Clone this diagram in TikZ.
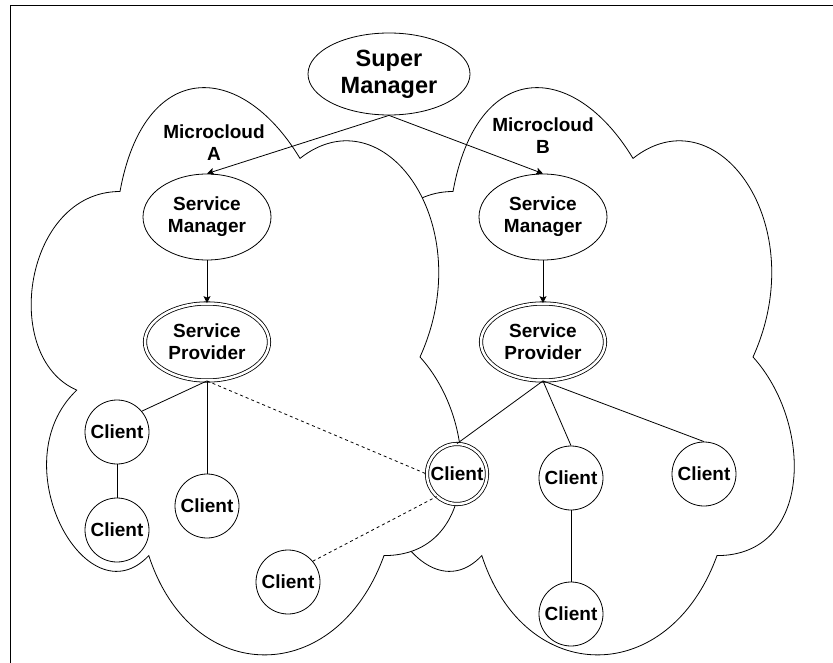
\documentclass[tikz,border=0pt]{standalone}
\usepackage{fontspec}
\setmainfont{Liberation Sans}
\usetikzlibrary{shapes.geometric,arrows.meta}
\newcommand{\microcloud}[1] {
    \begin{scope}[shift={(#1, 26)}, x=480pt, y=-662pt]
        \draw[cloudline] (0.25, 0.25)
            .. controls (0.05, 0.25) and (0, 0.5) .. (0.16, 0.55)
            .. controls (0, 0.66) and (0.18, 0.9) .. (0.31, 0.8)
            .. controls (0.4, 1) and (0.7, 1) .. (0.8, 0.8)
            .. controls (1, 0.8) and (1, 0.6) .. (0.875, 0.5)
            .. controls (1, 0.3) and (0.8, 0.1) .. (0.625, 0.2)
            .. controls (0.5, 0.05) and (0.3, 0.05) .. (0.25, 0.25) -- cycle;
    \end{scope}
}
\newcommand{\client}[3] {
    \node[client] (#1) at (#2, #3) {Client};
}
\tikzset{
    cloudline/.style={draw, fill=white, line width=0.8pt},
    manager/.style={
        ellipse,
        draw,
        fill=white,
        line width=0.8pt,
        minimum width=128pt,
        minimum height=86pt,
        inner sep=0pt,
        align=center,
        font=\bfseries\fontsize{19}{22}\selectfont
    },
    provider/.style={manager, double, double distance=2.5pt, minimum width=124pt, minimum height=77pt},
    client/.style={
        circle,
        draw,
        fill=white,
        line width=0.8pt,
        minimum size=64pt,
        inner sep=0pt,
        font=\bfseries\fontsize{19}{22}\selectfont
    },
    keyclient/.style={client, double, double distance=2.5pt, minimum size=60pt},
    link/.style={line width=0.8pt},
    weaklink/.style={link, dash pattern=on 3pt off 3pt},
    push/.style={link, -{Stealth[length=7pt,width=7pt,inset=1.5pt]}}
}
\begin{document}
\begin{tikzpicture}[x=1pt, y=-1pt]
    \useasboundingbox (0, 0) rectangle (833, 663);
    \draw[link] (10, 663) -- (10, 5) -- (833, 5);
    % clouds
    \microcloud{333}
    \microcloud{0}
    \node[align=center, font=\bfseries\fontsize{19}{22}\selectfont] (labela) at (214, 143) {Microcloud\\A};
    \node[align=center, font=\bfseries\fontsize{19}{22}\selectfont] (labelb) at (543, 136) {Microcloud\\B};
    % managers
    \node[manager, minimum width=162pt, minimum height=82pt, font=\bfseries\fontsize{23.5}{27}\selectfont] (sup) at (389, 74) {Super\\Manager};
    \node[manager] (sma) at (207, 217) {Service\\Manager};
    \node[manager] (smb) at (543, 217) {Service\\Manager};
    \node[provider] (spa) at (207, 342) {Service\\Provider};
    \node[provider] (spb) at (543, 342) {Service\\Provider};
    % clients
    \client{c1}{117}{432}
    \client{c2}{117}{530}
    \client{c3}{207}{506}
    \client{c4}{288}{582}
    \node[keyclient] (dc) at (457, 474) {Client};
    \client{c5}{571}{478}
    \client{c6}{704}{474}
    \client{c7}{571}{614}
    % links
    \draw[push] (sup.south) -- (sma.north);
    \draw[push] (sup.south) -- (smb.north);
    \draw[push] (sma.south) -- (spa.north);
    \draw[push] (smb.south) -- (spb.north);
    \draw[link] (spa.south) -- (c1.40);
    \draw[link] (spa.south) -- (c3.north);
    \draw[link] (c1.south) -- (c2.north);
    \draw[link] (spb.south) -- (dc.north);
    \draw[link] (spb.south) -- (c5.north);
    \draw[link] (spb.south) -- (c6.north);
    \draw[link] (c5.south) -- (c7.north);
    \draw[weaklink] (spa.south) -- (dc.west);
    \draw[weaklink] (c4.40) -- (dc.228);
\end{tikzpicture}
\end{document}
